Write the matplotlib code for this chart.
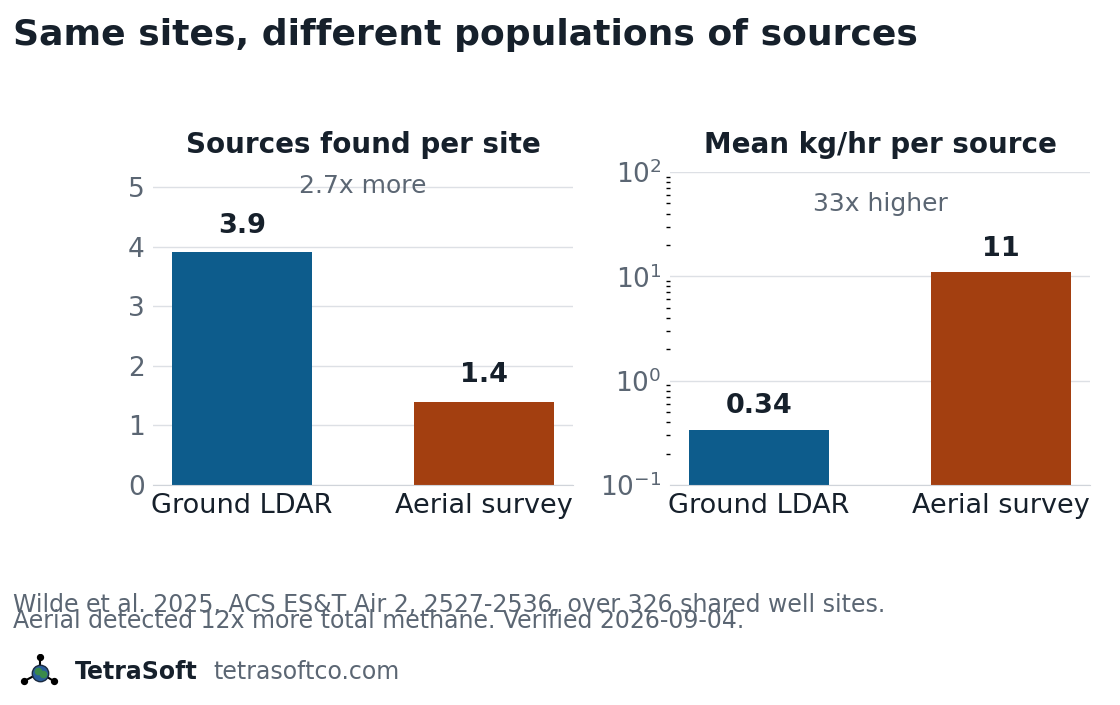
import matplotlib.pyplot as plt
import numpy as np

categories = ['Ground LDAR', 'Aerial survey']
sources_per_site = [3.9, 1.4]
kg_per_source = [0.34, 11]
labels_left = ['3.9', '1.4']
labels_right = ['0.34', '11']
colors = ['#0d5c8c', '#a33f10']
dark = '#16202b'
grey = '#5b6673'

fig = plt.figure(figsize=(11.2, 7.05), dpi=100)
ax1 = fig.add_axes([153/1120, 1-485/705, 420/1120, 313/705])
ax2 = fig.add_axes([670/1120, 1-485/705, 420/1120, 313/705])

x = np.arange(len(categories))
for ax in (ax1, ax2):
    for s in ['top', 'right', 'left']:
        ax.spines[s].set_visible(False)
    ax.spines['bottom'].set_color('#d0d4da')
    ax.grid(axis='y', color='#dde0e5', lw=1)
    ax.set_axisbelow(True)
    ax.set_xlim(-0.368, 1.368)
    ax.set_xticks(x)
    ax.set_xticklabels(categories, fontsize=19.5, color=dark)
    ax.tick_params(axis='x', length=0, pad=6)
    ax.tick_params(axis='y', which='major', length=0, labelsize=19, labelcolor=grey, pad=6)

ax1.bar(x, sources_per_site, width=0.58, color=colors)
ax1.set_ylim(0, 5.25)
ax1.set_yticks(range(6))
for xi, v, t in zip(x, sources_per_site, labels_left):
    ax1.text(xi, v + 0.22, t, ha='center', va='bottom', fontsize=19.5, fontweight='bold', color=dark)
ax1.set_title('Sources found per site', fontsize=20, fontweight='bold', color=dark, pad=14)
ax1.text(0.5, 0.955, '2.7x more', transform=ax1.transAxes, ha='center', va='center', fontsize=18, color=grey)

ax2.set_yscale('log')
ax2.bar(x, kg_per_source, width=0.58, color=colors, bottom=0)
ax2.set_ylim(0.1, 100)
ax2.tick_params(axis='y', which='minor', length=3, width=1, color='black')
for xi, v, t in zip(x, kg_per_source, labels_right):
    ax2.text(xi, v * 1.25, t, ha='center', va='bottom', fontsize=19.5, fontweight='bold', color=dark)
ax2.set_title('Mean kg/hr per source', fontsize=20, fontweight='bold', color=dark, pad=14)
ax2.text(0.5, 0.898, '33x higher', transform=ax2.transAxes, ha='center', va='center', fontsize=18, color=grey)

fig.text(13/1120, 1-35/705, 'Same sites, different populations of sources', fontsize=26,
         fontweight='bold', color=dark, va='center')
fig.text(13/1120, 1-605/705, 'Wilde et al. 2025, ACS ES&T Air 2, 2527-2536, over 326 shared well sites.',
         fontsize=17, color=grey, va='center')
fig.text(13/1120, 1-621/705, 'Aerial detected 12x more total methane. Verified 2026-09-04.',
         fontsize=17, color=grey, va='center')

# logo
lg = fig.add_axes([20/1120, 1-688/705, 40/1120, 34/705])
lg.set_xlim(0, 1); lg.set_ylim(0, 1); lg.axis('off')
for (px, py) in [(0.5, 0.9), (0.1, 0.2), (0.85, 0.2)]:
    lg.plot([0.5, px], [0.45, py], color='black', lw=1.5)
    lg.scatter([px], [py], s=18, color='black', zorder=3)
lg.scatter([0.5], [0.45], s=140, color='#2a5d9a', edgecolor='#1a2a40', zorder=4)
lg.scatter([0.45, 0.58], [0.5, 0.4], s=20, color='#3a8a4a', zorder=5)

fig.text(75/1120, 1-672/705, 'TetraSoft', fontsize=17, fontweight='bold', color=dark, va='center')
fig.text(213/1120, 1-672/705, 'tetrasoftco.com', fontsize=17, color=grey, va='center')

fig.savefig('out.png', dpi=100)
